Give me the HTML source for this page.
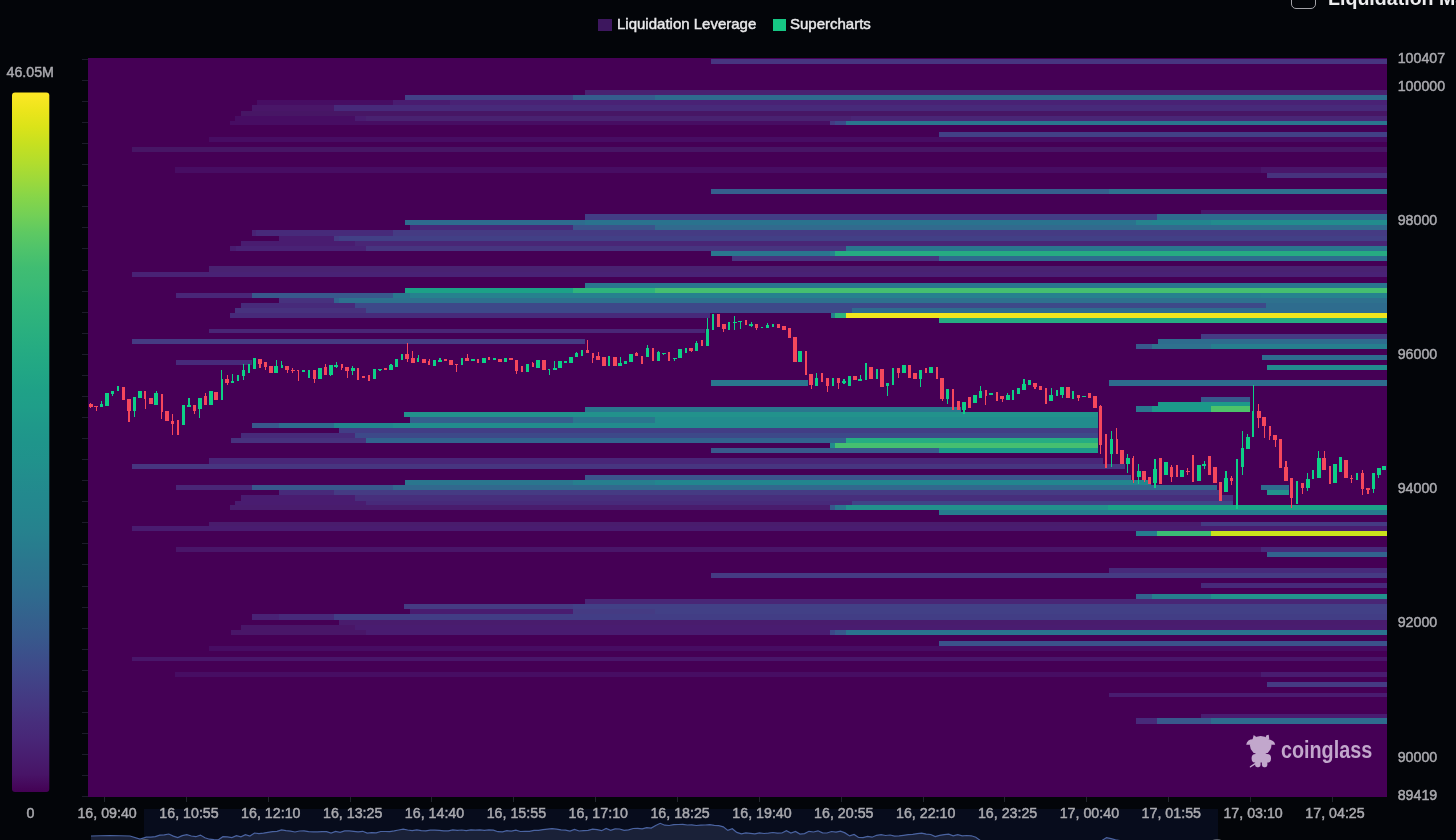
<!DOCTYPE html>
<html><head><meta charset="utf-8"><style>
html,body{margin:0;padding:0;width:1456px;height:840px;overflow:hidden;background:#030509;font-family:"Liberation Sans",sans-serif;}
.abs{position:absolute}
.leg{position:absolute;will-change:transform;top:15px;color:#e8e8ea;font-size:15px;line-height:18px;-webkit-text-stroke:0.45px #e8e8ea;}
svg text{font-family:"Liberation Sans",sans-serif;}
</style></head><body>
<svg class="abs" style="left:0;top:0;will-change:transform" width="1456" height="840" viewBox="0 0 1456 840">
<defs><filter id="sb" x="-1%" y="-1%" width="102%" height="102%"><feGaussianBlur stdDeviation="0.55"/></filter><linearGradient id="vg" x1="0" y1="1" x2="0" y2="0"><stop offset="0.000" stop-color="#440154"/><stop offset="0.025" stop-color="#481467"/><stop offset="0.050" stop-color="#481d6f"/><stop offset="0.075" stop-color="#482677"/><stop offset="0.100" stop-color="#472e7c"/><stop offset="0.125" stop-color="#453781"/><stop offset="0.150" stop-color="#423f85"/><stop offset="0.175" stop-color="#3f4889"/><stop offset="0.200" stop-color="#3b518b"/><stop offset="0.225" stop-color="#375a8c"/><stop offset="0.250" stop-color="#34618d"/><stop offset="0.275" stop-color="#30698e"/><stop offset="0.300" stop-color="#2d708e"/><stop offset="0.325" stop-color="#2b758e"/><stop offset="0.350" stop-color="#287c8e"/><stop offset="0.375" stop-color="#26828e"/><stop offset="0.400" stop-color="#24868e"/><stop offset="0.425" stop-color="#23898e"/><stop offset="0.450" stop-color="#228d8d"/><stop offset="0.475" stop-color="#20928c"/><stop offset="0.500" stop-color="#1f958b"/><stop offset="0.525" stop-color="#1f998a"/><stop offset="0.550" stop-color="#1f9e89"/><stop offset="0.575" stop-color="#1fa187"/><stop offset="0.600" stop-color="#21a685"/><stop offset="0.625" stop-color="#24aa83"/><stop offset="0.650" stop-color="#28ae80"/><stop offset="0.675" stop-color="#2db27d"/><stop offset="0.700" stop-color="#32b67a"/><stop offset="0.725" stop-color="#3aba76"/><stop offset="0.750" stop-color="#40bd72"/><stop offset="0.775" stop-color="#4ec36b"/><stop offset="0.800" stop-color="#5ec962"/><stop offset="0.825" stop-color="#73d056"/><stop offset="0.850" stop-color="#86d549"/><stop offset="0.875" stop-color="#9dd93b"/><stop offset="0.900" stop-color="#b2dd2d"/><stop offset="0.925" stop-color="#c5e021"/><stop offset="0.950" stop-color="#dae319"/><stop offset="0.975" stop-color="#ece51b"/><stop offset="1.000" stop-color="#fde725"/></linearGradient></defs>
<rect x="144" y="809" width="1074" height="31" fill="#070c1c"/>
<polygon points="91,841 91,836 110,835.5 130,836 140,839 146.3,837.2 150.8,837.2 155.3,836.6 159.8,835.1 164.3,834.8 168.8,834.0 173.3,836.1 177.8,837.6 182.3,835.6 186.8,834.7 191.3,836.0 195.8,836.7 200.4,835.1 204.9,837.8 209.4,839.2 213.9,839.6 218.4,839.8 222.9,836.7 227.4,836.8 231.9,837.6 236.4,835.7 240.9,836.8 245.4,834.7 249.9,836.1 254.5,833.0 259.0,833.6 263.5,833.2 268.0,832.3 272.5,831.6 277.0,831.3 281.5,829.9 286.0,830.7 290.5,831.2 295.0,832.0 299.5,831.0 304.0,830.8 308.6,831.6 313.1,831.8 317.6,831.8 322.1,831.6 326.6,831.6 331.1,833.0 335.6,831.4 340.1,832.4 344.6,830.9 349.1,830.9 353.6,831.4 358.1,831.8 362.7,831.3 367.2,833.1 371.7,832.7 376.2,832.9 380.7,831.5 385.2,831.5 389.7,831.6 394.2,830.9 398.7,830.0 403.2,829.2 407.7,830.0 412.2,830.6 416.8,829.9 421.3,830.6 425.8,830.9 430.3,830.2 434.8,830.2 439.3,830.3 443.8,830.9 448.3,830.9 452.8,829.8 457.3,830.3 461.8,830.0 466.3,830.6 470.9,829.8 475.4,830.2 479.9,829.9 484.4,830.4 488.9,829.9 493.4,830.2 497.9,831.7 502.4,831.9 506.9,830.7 511.4,831.2 515.9,830.1 520.4,831.5 525.0,831.4 529.5,831.3 534.0,830.3 538.5,830.3 543.0,829.6 547.5,829.1 552.0,828.6 556.5,829.2 561.0,829.8 565.5,830.2 570.0,831.1 574.5,829.5 579.1,831.0 583.6,830.6 588.1,830.3 592.6,829.2 597.1,829.6 601.6,830.7 606.1,828.4 610.6,830.3 615.1,828.9 619.6,829.0 624.1,830.3 628.6,829.8 633.2,828.5 637.7,828.3 642.2,828.8 646.7,827.6 651.2,828.1 655.7,825.5 660.2,823.3 664.7,825.2 669.2,825.5 673.7,824.6 678.2,824.5 682.7,824.4 687.3,825.0 691.8,824.8 696.3,825.5 700.8,825.2 705.3,825.0 709.8,824.7 714.3,825.4 718.8,825.7 723.3,826.9 727.8,830.4 732.3,828.8 736.8,832.4 741.4,833.8 745.9,832.8 750.4,833.4 754.9,833.9 759.4,832.8 763.9,833.5 768.4,833.2 772.9,832.5 777.4,833.1 781.9,833.0 786.4,830.6 790.9,833.0 795.5,831.5 800.0,834.1 804.5,833.6 809.0,831.3 813.5,832.0 818.0,830.8 822.5,832.8 827.0,833.0 831.5,831.5 836.0,832.1 840.5,831.2 845.0,832.9 849.6,835.9 854.1,834.4 858.6,837.5 863.1,837.6 867.6,836.4 872.1,837.2 876.6,835.3 881.1,834.7 885.6,835.5 890.1,835.0 894.6,836.2 899.1,835.9 903.6,835.3 908.2,834.6 912.7,834.3 917.2,833.6 921.7,833.2 926.2,834.1 930.7,834.5 935.2,836.6 939.7,835.3 944.2,834.6 948.7,834.2 953.2,835.8 957.7,834.7 962.3,835.8 966.8,835.5 971.3,835.8 975.8,837.2 980.3,840.5 984.8,840.5 989.3,840.5 993.8,840.5 998.3,840.5 1002.8,840.5 1007.3,840.5 1011.8,840.5 1016.4,840.5 1020.9,840.5 1025.4,840.5 1029.9,840.5 1034.4,840.5 1038.9,840.5 1043.4,840.5 1047.9,840.5 1052.4,840.5 1056.9,840.5 1061.4,840.5 1065.9,840.5 1070.5,840.5 1075.0,840.5 1079.5,840.5 1084.0,840.5 1088.5,840.5 1093.0,840.5 1097.5,840.5 1102.0,840.5 1106.5,837.6 1111.0,838.7 1115.5,839.8 1120.0,840.5 1124.6,840.5 1129.1,840.5 1133.6,840.5 1138.1,840.5 1142.6,840.5 1147.1,840.5 1151.6,840.5 1156.1,840.5 1160.6,840.5 1165.1,840.5 1169.6,840.5 1174.1,840.5 1178.7,840.5 1183.2,840.5 1187.7,840.5 1192.2,840.5 1196.7,840.5 1201.2,840.5 1205.7,840.5 1210.2,840.5 1214.7,840.5 1214.7,841" fill="#1a2138"/>
<polyline points="91,836 110,835.5 130,836 140,839 146.3,837.2 150.8,837.2 155.3,836.6 159.8,835.1 164.3,834.8 168.8,834.0 173.3,836.1 177.8,837.6 182.3,835.6 186.8,834.7 191.3,836.0 195.8,836.7 200.4,835.1 204.9,837.8 209.4,839.2 213.9,839.6 218.4,839.8 222.9,836.7 227.4,836.8 231.9,837.6 236.4,835.7 240.9,836.8 245.4,834.7 249.9,836.1 254.5,833.0 259.0,833.6 263.5,833.2 268.0,832.3 272.5,831.6 277.0,831.3 281.5,829.9 286.0,830.7 290.5,831.2 295.0,832.0 299.5,831.0 304.0,830.8 308.6,831.6 313.1,831.8 317.6,831.8 322.1,831.6 326.6,831.6 331.1,833.0 335.6,831.4 340.1,832.4 344.6,830.9 349.1,830.9 353.6,831.4 358.1,831.8 362.7,831.3 367.2,833.1 371.7,832.7 376.2,832.9 380.7,831.5 385.2,831.5 389.7,831.6 394.2,830.9 398.7,830.0 403.2,829.2 407.7,830.0 412.2,830.6 416.8,829.9 421.3,830.6 425.8,830.9 430.3,830.2 434.8,830.2 439.3,830.3 443.8,830.9 448.3,830.9 452.8,829.8 457.3,830.3 461.8,830.0 466.3,830.6 470.9,829.8 475.4,830.2 479.9,829.9 484.4,830.4 488.9,829.9 493.4,830.2 497.9,831.7 502.4,831.9 506.9,830.7 511.4,831.2 515.9,830.1 520.4,831.5 525.0,831.4 529.5,831.3 534.0,830.3 538.5,830.3 543.0,829.6 547.5,829.1 552.0,828.6 556.5,829.2 561.0,829.8 565.5,830.2 570.0,831.1 574.5,829.5 579.1,831.0 583.6,830.6 588.1,830.3 592.6,829.2 597.1,829.6 601.6,830.7 606.1,828.4 610.6,830.3 615.1,828.9 619.6,829.0 624.1,830.3 628.6,829.8 633.2,828.5 637.7,828.3 642.2,828.8 646.7,827.6 651.2,828.1 655.7,825.5 660.2,823.3 664.7,825.2 669.2,825.5 673.7,824.6 678.2,824.5 682.7,824.4 687.3,825.0 691.8,824.8 696.3,825.5 700.8,825.2 705.3,825.0 709.8,824.7 714.3,825.4 718.8,825.7 723.3,826.9 727.8,830.4 732.3,828.8 736.8,832.4 741.4,833.8 745.9,832.8 750.4,833.4 754.9,833.9 759.4,832.8 763.9,833.5 768.4,833.2 772.9,832.5 777.4,833.1 781.9,833.0 786.4,830.6 790.9,833.0 795.5,831.5 800.0,834.1 804.5,833.6 809.0,831.3 813.5,832.0 818.0,830.8 822.5,832.8 827.0,833.0 831.5,831.5 836.0,832.1 840.5,831.2 845.0,832.9 849.6,835.9 854.1,834.4 858.6,837.5 863.1,837.6 867.6,836.4 872.1,837.2 876.6,835.3 881.1,834.7 885.6,835.5 890.1,835.0 894.6,836.2 899.1,835.9 903.6,835.3 908.2,834.6 912.7,834.3 917.2,833.6 921.7,833.2 926.2,834.1 930.7,834.5 935.2,836.6 939.7,835.3 944.2,834.6 948.7,834.2 953.2,835.8 957.7,834.7 962.3,835.8 966.8,835.5 971.3,835.8 975.8,837.2 980.3,840.5 984.8,840.5 989.3,840.5 993.8,840.5 998.3,840.5 1002.8,840.5 1007.3,840.5 1011.8,840.5 1016.4,840.5 1020.9,840.5 1025.4,840.5 1029.9,840.5 1034.4,840.5 1038.9,840.5 1043.4,840.5 1047.9,840.5 1052.4,840.5 1056.9,840.5 1061.4,840.5 1065.9,840.5 1070.5,840.5 1075.0,840.5 1079.5,840.5 1084.0,840.5 1088.5,840.5 1093.0,840.5 1097.5,840.5 1102.0,840.5 1106.5,837.6 1111.0,838.7 1115.5,839.8 1120.0,840.5 1124.6,840.5 1129.1,840.5 1133.6,840.5 1138.1,840.5 1142.6,840.5 1147.1,840.5 1151.6,840.5 1156.1,840.5 1160.6,840.5 1165.1,840.5 1169.6,840.5 1174.1,840.5 1178.7,840.5 1183.2,840.5 1187.7,840.5 1192.2,840.5 1196.7,840.5 1201.2,840.5 1205.7,840.5 1210.2,840.5 1214.7,840.5" fill="none" stroke="#4a63a0" stroke-width="1.2"/>
<circle cx="145" cy="849" r="10" fill="#5a5f6a"/>
<circle cx="1217" cy="849" r="10" fill="#5a5f6a"/>
<g shape-rendering="crispEdges" filter="url(#sb)">
<rect x="88" y="58" width="1299" height="739" fill="#440154"/>
<rect x="710.5" y="58.5" width="676.5" height="5.1" fill="#463480"/>
<rect x="585.0" y="90.4" width="802.0" height="4.9" fill="#482071"/>
<rect x="405.0" y="95.3" width="168.0" height="5.1" fill="#424086"/>
<rect x="573.0" y="95.3" width="82.0" height="5.1" fill="#365d8d"/>
<rect x="655.0" y="95.3" width="732.0" height="5.1" fill="#2f6c8e"/>
<rect x="257.0" y="100.4" width="136.0" height="4.9" fill="#471063"/>
<rect x="393.0" y="100.4" width="57.0" height="4.9" fill="#481d6f"/>
<rect x="450.0" y="100.4" width="937.0" height="4.9" fill="#482374"/>
<rect x="252.0" y="105.3" width="81.5" height="5.2" fill="#481668"/>
<rect x="333.5" y="105.3" width="1053.5" height="5.2" fill="#472a7a"/>
<rect x="241.0" y="110.5" width="1146.0" height="5.1" fill="#471365"/>
<rect x="235.0" y="115.6" width="120.0" height="4.9" fill="#471063"/>
<rect x="355.0" y="115.6" width="11.0" height="4.9" fill="#481d6f"/>
<rect x="366.0" y="115.6" width="484.7" height="4.9" fill="#482071"/>
<rect x="850.7" y="115.6" width="536.3" height="4.9" fill="#482576"/>
<rect x="230.0" y="120.5" width="599.5" height="4.5" fill="#471063"/>
<rect x="829.5" y="120.5" width="5.5" height="4.5" fill="#443a83"/>
<rect x="835.0" y="120.5" width="11.0" height="4.5" fill="#3e4989"/>
<rect x="846.0" y="120.5" width="541.0" height="4.5" fill="#2a768e"/>
<rect x="939.0" y="131.7" width="448.0" height="4.9" fill="#424086"/>
<rect x="208.5" y="136.6" width="1178.5" height="5.1" fill="#471063"/>
<rect x="131.5" y="146.8" width="1255.5" height="5.0" fill="#471365"/>
<rect x="175.0" y="167.4" width="1085.5" height="5.6" fill="#471063"/>
<rect x="1260.5" y="167.4" width="126.5" height="5.6" fill="#48186a"/>
<rect x="1266.8" y="173.0" width="120.2" height="4.9" fill="#46307e"/>
<rect x="710.5" y="188.6" width="398.3" height="4.9" fill="#355f8d"/>
<rect x="1108.8" y="188.6" width="278.2" height="4.9" fill="#2d718e"/>
<rect x="1201.4" y="209.8" width="185.6" height="4.5" fill="#48186a"/>
<rect x="585.0" y="214.3" width="571.8" height="5.5" fill="#433e85"/>
<rect x="1156.8" y="214.3" width="230.2" height="5.5" fill="#2f6c8e"/>
<rect x="405.0" y="219.8" width="180.0" height="5.2" fill="#2f6c8e"/>
<rect x="585.0" y="219.8" width="550.5" height="5.2" fill="#2c738e"/>
<rect x="1135.5" y="219.8" width="16.5" height="5.2" fill="#25838e"/>
<rect x="1152.0" y="219.8" width="59.4" height="5.2" fill="#24868e"/>
<rect x="1211.4" y="219.8" width="175.6" height="5.2" fill="#228c8d"/>
<rect x="409.5" y="225.0" width="163.5" height="4.9" fill="#472a7a"/>
<rect x="573.0" y="225.0" width="82.0" height="4.9" fill="#3b528b"/>
<rect x="655.0" y="225.0" width="732.0" height="4.9" fill="#306a8e"/>
<rect x="252.0" y="229.9" width="4.0" height="5.6" fill="#482374"/>
<rect x="256.0" y="229.9" width="137.0" height="5.6" fill="#472a7a"/>
<rect x="393.0" y="229.9" width="994.0" height="5.6" fill="#443a83"/>
<rect x="279.0" y="235.5" width="54.5" height="5.1" fill="#481d6f"/>
<rect x="333.5" y="235.5" width="5.0" height="5.1" fill="#443a83"/>
<rect x="338.5" y="235.5" width="1048.5" height="5.1" fill="#424086"/>
<rect x="241.0" y="240.6" width="114.0" height="5.1" fill="#481d6f"/>
<rect x="355.0" y="240.6" width="1032.0" height="5.1" fill="#482576"/>
<rect x="230.0" y="245.7" width="5.5" height="5.1" fill="#481d6f"/>
<rect x="235.5" y="245.7" width="130.5" height="5.1" fill="#482374"/>
<rect x="366.0" y="245.7" width="480.0" height="5.1" fill="#463480"/>
<rect x="846.0" y="245.7" width="541.0" height="5.1" fill="#2a768e"/>
<rect x="710.5" y="250.8" width="119.0" height="5.2" fill="#2a768e"/>
<rect x="829.5" y="250.8" width="5.5" height="5.2" fill="#25838e"/>
<rect x="835.0" y="250.8" width="552.0" height="5.2" fill="#25ac82"/>
<rect x="732.0" y="256.0" width="207.0" height="4.9" fill="#463480"/>
<rect x="939.0" y="256.0" width="448.0" height="4.9" fill="#2f6c8e"/>
<rect x="208.5" y="266.4" width="1178.5" height="5.1" fill="#482071"/>
<rect x="131.5" y="271.5" width="1255.5" height="5.0" fill="#482374"/>
<rect x="585.0" y="282.7" width="802.0" height="4.9" fill="#2a768e"/>
<rect x="405.0" y="287.6" width="168.0" height="5.0" fill="#1fa187"/>
<rect x="573.0" y="287.6" width="82.0" height="5.0" fill="#2fb47c"/>
<rect x="655.0" y="287.6" width="732.0" height="5.0" fill="#44bf70"/>
<rect x="176.0" y="292.6" width="76.0" height="5.1" fill="#482878"/>
<rect x="252.0" y="292.6" width="141.0" height="5.1" fill="#38588c"/>
<rect x="393.0" y="292.6" width="16.6" height="5.1" fill="#2a768e"/>
<rect x="409.6" y="292.6" width="850.9" height="5.1" fill="#26818e"/>
<rect x="1260.5" y="292.6" width="126.5" height="5.1" fill="#25838e"/>
<rect x="279.0" y="297.7" width="54.5" height="5.1" fill="#46307e"/>
<rect x="333.5" y="297.7" width="5.0" height="5.1" fill="#32648e"/>
<rect x="338.5" y="297.7" width="1048.5" height="5.1" fill="#2d718e"/>
<rect x="241.0" y="302.8" width="114.0" height="4.9" fill="#472a7a"/>
<rect x="355.0" y="302.8" width="911.0" height="4.9" fill="#3e4989"/>
<rect x="1266.0" y="302.8" width="121.0" height="4.9" fill="#2f6c8e"/>
<rect x="235.0" y="307.7" width="131.0" height="4.9" fill="#46307e"/>
<rect x="366.0" y="307.7" width="485.8" height="4.9" fill="#3e4989"/>
<rect x="851.8" y="307.7" width="535.2" height="4.9" fill="#2f6c8e"/>
<rect x="230.0" y="312.6" width="480.0" height="5.2" fill="#472a7a"/>
<rect x="830.6" y="312.6" width="4.4" height="5.2" fill="#277f8e"/>
<rect x="835.0" y="312.6" width="11.0" height="5.2" fill="#2fb47c"/>
<rect x="846.0" y="312.6" width="541.0" height="5.2" fill="#f1e51d"/>
<rect x="939.0" y="317.8" width="448.0" height="5.1" fill="#25ac82"/>
<rect x="208.5" y="329.0" width="496.5" height="4.4" fill="#482576"/>
<rect x="1201.4" y="334.0" width="185.6" height="5.0" fill="#443a83"/>
<rect x="131.5" y="339.0" width="453.5" height="4.9" fill="#443a83"/>
<rect x="1157.9" y="339.0" width="229.1" height="4.9" fill="#2f6c8e"/>
<rect x="1135.5" y="343.9" width="16.5" height="5.1" fill="#38588c"/>
<rect x="1152.0" y="343.9" width="59.4" height="5.1" fill="#2d718e"/>
<rect x="1211.4" y="343.9" width="175.6" height="5.1" fill="#277f8e"/>
<rect x="1261.7" y="354.6" width="125.3" height="4.9" fill="#2f6c8e"/>
<rect x="176.0" y="360.2" width="76.0" height="4.5" fill="#472a7a"/>
<rect x="1266.8" y="364.7" width="120.2" height="5.1" fill="#228c8d"/>
<rect x="710.5" y="380.3" width="97.8" height="5.6" fill="#2a768e"/>
<rect x="1108.8" y="380.3" width="278.2" height="5.6" fill="#2f6c8e"/>
<rect x="1201.4" y="396.6" width="48.6" height="4.9" fill="#38588c"/>
<rect x="1158.0" y="401.5" width="92.0" height="4.9" fill="#1f998a"/>
<rect x="1135.5" y="406.4" width="16.5" height="5.1" fill="#2a768e"/>
<rect x="1152.0" y="406.4" width="59.4" height="5.1" fill="#1f998a"/>
<rect x="1211.4" y="406.4" width="38.6" height="5.1" fill="#4ec36b"/>
<rect x="585.0" y="407.0" width="376.0" height="5.2" fill="#2a768e"/>
<rect x="404.3" y="412.2" width="693.3" height="4.8" fill="#20928c"/>
<rect x="410.3" y="417.0" width="162.7" height="5.5" fill="#355f8d"/>
<rect x="573.0" y="417.0" width="82.0" height="5.5" fill="#2a768e"/>
<rect x="655.0" y="417.0" width="442.6" height="5.5" fill="#228c8d"/>
<rect x="252.4" y="422.5" width="26.6" height="5.1" fill="#38588c"/>
<rect x="279.0" y="422.5" width="55.0" height="5.1" fill="#2f6c8e"/>
<rect x="334.0" y="422.5" width="59.0" height="5.1" fill="#24868e"/>
<rect x="393.0" y="422.5" width="704.6" height="5.1" fill="#228c8d"/>
<rect x="339.0" y="427.6" width="758.6" height="5.2" fill="#433e85"/>
<rect x="241.2" y="432.8" width="113.3" height="5.0" fill="#472a7a"/>
<rect x="354.5" y="432.8" width="743.1" height="5.0" fill="#3e4989"/>
<rect x="231.0" y="437.8" width="134.7" height="5.4" fill="#46307e"/>
<rect x="365.7" y="437.8" width="480.3" height="5.4" fill="#32648e"/>
<rect x="846.0" y="437.8" width="251.6" height="5.4" fill="#25ac82"/>
<rect x="830.0" y="443.2" width="5.0" height="4.9" fill="#228c8d"/>
<rect x="835.0" y="443.2" width="262.6" height="4.9" fill="#44bf70"/>
<rect x="710.5" y="448.1" width="228.5" height="4.9" fill="#375a8c"/>
<rect x="939.0" y="448.1" width="158.6" height="4.9" fill="#1f998a"/>
<rect x="208.5" y="458.1" width="894.9" height="5.6" fill="#482878"/>
<rect x="131.5" y="463.7" width="993.8" height="4.9" fill="#463480"/>
<rect x="585.0" y="474.9" width="545.6" height="4.9" fill="#3a548c"/>
<rect x="405.0" y="479.8" width="168.0" height="5.1" fill="#2a768e"/>
<rect x="573.0" y="479.8" width="82.0" height="5.1" fill="#277f8e"/>
<rect x="655.0" y="479.8" width="496.0" height="5.1" fill="#24868e"/>
<rect x="176.0" y="484.9" width="76.0" height="5.1" fill="#482576"/>
<rect x="252.0" y="484.9" width="141.0" height="5.1" fill="#38588c"/>
<rect x="393.0" y="484.9" width="823.8" height="5.1" fill="#31678e"/>
<rect x="1261.3" y="484.9" width="27.2" height="5.1" fill="#2f6c8e"/>
<rect x="279.0" y="490.0" width="54.5" height="5.0" fill="#472a7a"/>
<rect x="333.5" y="490.0" width="885.5" height="5.0" fill="#443a83"/>
<rect x="1267.4" y="490.0" width="21.1" height="5.0" fill="#20928c"/>
<rect x="241.0" y="495.0" width="114.0" height="5.5" fill="#481d6f"/>
<rect x="355.0" y="495.0" width="878.4" height="5.5" fill="#472e7c"/>
<rect x="235.0" y="500.5" width="131.0" height="4.8" fill="#481d6f"/>
<rect x="366.0" y="500.5" width="486.0" height="4.8" fill="#472a7a"/>
<rect x="852.0" y="500.5" width="381.4" height="4.8" fill="#414487"/>
<rect x="230.0" y="505.3" width="600.0" height="4.9" fill="#481b6d"/>
<rect x="830.0" y="505.3" width="5.0" height="4.9" fill="#38588c"/>
<rect x="835.0" y="505.3" width="11.0" height="4.9" fill="#2a768e"/>
<rect x="846.0" y="505.3" width="261.6" height="4.9" fill="#20928c"/>
<rect x="1107.6" y="505.3" width="279.4" height="4.9" fill="#1fa187"/>
<rect x="939.0" y="510.2" width="448.0" height="5.0" fill="#287c8e"/>
<rect x="208.5" y="521.8" width="992.9" height="4.6" fill="#481b6d"/>
<rect x="1201.4" y="521.8" width="185.6" height="4.6" fill="#443a83"/>
<rect x="131.5" y="526.4" width="1255.5" height="4.7" fill="#481d6f"/>
<rect x="1135.5" y="531.1" width="21.3" height="5.3" fill="#287c8e"/>
<rect x="1156.8" y="531.1" width="54.6" height="5.3" fill="#3bbb75"/>
<rect x="1211.4" y="531.1" width="175.6" height="5.3" fill="#cae11f"/>
<rect x="176.0" y="547.4" width="1084.5" height="4.5" fill="#481769"/>
<rect x="1260.5" y="547.4" width="126.5" height="4.5" fill="#472a7a"/>
<rect x="1266.8" y="551.9" width="120.2" height="5.1" fill="#32648e"/>
<rect x="1108.8" y="568.2" width="278.2" height="4.8" fill="#472a7a"/>
<rect x="710.5" y="573.0" width="676.5" height="4.6" fill="#443a83"/>
<rect x="1201.4" y="583.1" width="185.6" height="5.2" fill="#472a7a"/>
<rect x="1135.5" y="593.6" width="16.5" height="5.2" fill="#32648e"/>
<rect x="1152.0" y="593.6" width="59.4" height="5.2" fill="#277f8e"/>
<rect x="1211.4" y="593.6" width="175.6" height="5.2" fill="#20928c"/>
<rect x="585.0" y="599.4" width="802.0" height="4.8" fill="#482576"/>
<rect x="404.3" y="604.2" width="168.7" height="4.8" fill="#443a83"/>
<rect x="573.0" y="604.2" width="814.0" height="4.8" fill="#424086"/>
<rect x="410.0" y="609.0" width="163.0" height="5.2" fill="#481d6f"/>
<rect x="573.0" y="609.0" width="82.0" height="5.2" fill="#443a83"/>
<rect x="655.0" y="609.0" width="732.0" height="5.2" fill="#424086"/>
<rect x="252.4" y="614.2" width="26.6" height="5.3" fill="#482374"/>
<rect x="279.0" y="614.2" width="55.0" height="5.3" fill="#472a7a"/>
<rect x="334.0" y="614.2" width="1053.0" height="5.3" fill="#433e85"/>
<rect x="339.0" y="619.5" width="1048.0" height="5.0" fill="#481b6d"/>
<rect x="241.0" y="624.5" width="114.0" height="5.5" fill="#481668"/>
<rect x="355.0" y="624.5" width="1032.0" height="5.5" fill="#481d6f"/>
<rect x="231.0" y="630.0" width="135.0" height="4.8" fill="#481668"/>
<rect x="366.0" y="630.0" width="464.0" height="4.8" fill="#481d6f"/>
<rect x="830.0" y="630.0" width="5.0" height="4.8" fill="#3e4989"/>
<rect x="835.0" y="630.0" width="11.0" height="4.8" fill="#38588c"/>
<rect x="846.0" y="630.0" width="541.0" height="4.8" fill="#2c738e"/>
<rect x="939.0" y="640.9" width="448.0" height="4.9" fill="#3b528b"/>
<rect x="208.5" y="645.6" width="1178.5" height="4.9" fill="#471063"/>
<rect x="131.5" y="656.5" width="1255.5" height="4.5" fill="#48186a"/>
<rect x="175.0" y="672.2" width="1085.5" height="4.8" fill="#471063"/>
<rect x="1260.5" y="672.2" width="126.5" height="4.8" fill="#481d6f"/>
<rect x="1266.8" y="682.2" width="120.2" height="4.9" fill="#443a83"/>
<rect x="1108.8" y="692.9" width="278.2" height="4.5" fill="#481d6f"/>
<rect x="1201.4" y="713.9" width="185.6" height="4.5" fill="#481d6f"/>
<rect x="1135.5" y="718.4" width="21.3" height="5.1" fill="#472a7a"/>
<rect x="1156.8" y="718.4" width="54.6" height="5.1" fill="#38588c"/>
<rect x="1211.4" y="718.4" width="175.6" height="5.1" fill="#2f6c8e"/>
<rect x="90.13" y="403.0" width="1.2" height="5.0" fill="#f5475c"/>
<rect x="88.88" y="403.7" width="3.7" height="3.7" fill="#f5475c"/>
<rect x="95.59" y="406.0" width="1.2" height="5.0" fill="#f5475c"/>
<rect x="94.34" y="406.0" width="3.7" height="1.4" fill="#f5475c"/>
<rect x="101.05" y="400.6" width="1.2" height="6.2" fill="#10cf86"/>
<rect x="100.49" y="403.7" width="2.3" height="3.1" fill="#10cf86"/>
<rect x="105.25" y="393.2" width="3.7" height="12.9" fill="#10cf86"/>
<rect x="111.96" y="391.3" width="1.2" height="4.3" fill="#10cf86"/>
<rect x="110.71" y="391.3" width="3.7" height="2.5" fill="#10cf86"/>
<rect x="117.42" y="385.5" width="1.2" height="5.8" fill="#10cf86"/>
<rect x="116.87" y="386.4" width="2.3" height="4.9" fill="#10cf86"/>
<rect x="121.63" y="386.7" width="3.7" height="13.5" fill="#f5475c"/>
<rect x="128.34" y="399.0" width="1.2" height="22.6" fill="#f5475c"/>
<rect x="127.09" y="399.0" width="3.7" height="11.5" fill="#f5475c"/>
<rect x="133.79" y="397.1" width="1.2" height="20.2" fill="#10cf86"/>
<rect x="133.24" y="397.1" width="2.3" height="13.4" fill="#10cf86"/>
<rect x="138.00" y="390.7" width="3.7" height="6.8" fill="#10cf86"/>
<rect x="144.71" y="390.7" width="1.2" height="18.5" fill="#f5475c"/>
<rect x="144.16" y="390.7" width="2.3" height="8.6" fill="#f5475c"/>
<rect x="148.92" y="398.1" width="3.7" height="6.2" fill="#f5475c"/>
<rect x="155.63" y="390.7" width="1.2" height="14.2" fill="#10cf86"/>
<rect x="154.38" y="393.2" width="3.7" height="11.7" fill="#10cf86"/>
<rect x="161.08" y="393.8" width="1.2" height="25.3" fill="#f5475c"/>
<rect x="160.53" y="393.8" width="2.3" height="17.7" fill="#f5475c"/>
<rect x="165.29" y="411.1" width="3.7" height="10.2" fill="#f5475c"/>
<rect x="172.00" y="414.2" width="1.2" height="21.0" fill="#f5475c"/>
<rect x="170.75" y="421.0" width="3.7" height="3.0" fill="#f5475c"/>
<rect x="177.46" y="419.7" width="1.2" height="14.9" fill="#f5475c"/>
<rect x="176.91" y="423.4" width="2.3" height="1.9" fill="#f5475c"/>
<rect x="181.66" y="404.5" width="3.7" height="20.8" fill="#10cf86"/>
<rect x="188.37" y="397.5" width="1.2" height="9.9" fill="#10cf86"/>
<rect x="187.12" y="404.9" width="3.7" height="1.9" fill="#10cf86"/>
<rect x="193.83" y="404.9" width="1.2" height="9.3" fill="#f5475c"/>
<rect x="193.28" y="404.9" width="2.3" height="5.6" fill="#f5475c"/>
<rect x="199.29" y="397.5" width="1.2" height="20.4" fill="#10cf86"/>
<rect x="198.04" y="397.5" width="3.7" height="11.7" fill="#10cf86"/>
<rect x="204.75" y="393.2" width="1.2" height="12.1" fill="#f5475c"/>
<rect x="204.20" y="396.2" width="2.3" height="9.1" fill="#f5475c"/>
<rect x="208.96" y="390.7" width="3.7" height="14.6" fill="#10cf86"/>
<rect x="214.41" y="391.7" width="3.7" height="8.3" fill="#f5475c"/>
<rect x="221.12" y="369.7" width="1.2" height="30.3" fill="#10cf86"/>
<rect x="220.57" y="379.3" width="2.3" height="20.7" fill="#10cf86"/>
<rect x="226.58" y="375.2" width="1.2" height="9.3" fill="#f5475c"/>
<rect x="225.33" y="379.3" width="3.7" height="4.0" fill="#f5475c"/>
<rect x="232.04" y="374.0" width="1.2" height="9.3" fill="#10cf86"/>
<rect x="230.79" y="380.8" width="3.7" height="1.9" fill="#10cf86"/>
<rect x="236.94" y="374.9" width="2.3" height="6.5" fill="#10cf86"/>
<rect x="242.95" y="364.1" width="1.2" height="15.5" fill="#10cf86"/>
<rect x="241.70" y="369.7" width="3.7" height="6.2" fill="#10cf86"/>
<rect x="248.41" y="364.1" width="1.2" height="9.3" fill="#10cf86"/>
<rect x="247.86" y="367.8" width="2.3" height="3.1" fill="#10cf86"/>
<rect x="252.62" y="358.3" width="3.7" height="10.4" fill="#10cf86"/>
<rect x="259.33" y="358.5" width="1.2" height="9.3" fill="#f5475c"/>
<rect x="258.08" y="358.5" width="3.7" height="5.0" fill="#f5475c"/>
<rect x="264.78" y="362.3" width="1.2" height="8.0" fill="#f5475c"/>
<rect x="264.24" y="362.3" width="2.3" height="4.9" fill="#f5475c"/>
<rect x="268.99" y="365.8" width="3.7" height="6.8" fill="#f5475c"/>
<rect x="275.70" y="360.2" width="1.2" height="12.4" fill="#10cf86"/>
<rect x="274.45" y="366.0" width="3.7" height="6.6" fill="#10cf86"/>
<rect x="281.16" y="360.6" width="1.2" height="7.0" fill="#10cf86"/>
<rect x="280.61" y="364.6" width="2.3" height="3.0" fill="#10cf86"/>
<rect x="286.62" y="365.8" width="1.2" height="6.8" fill="#f5475c"/>
<rect x="285.37" y="365.8" width="3.7" height="4.3" fill="#f5475c"/>
<rect x="292.07" y="368.3" width="1.2" height="4.3" fill="#f5475c"/>
<rect x="290.82" y="369.5" width="3.7" height="1.9" fill="#f5475c"/>
<rect x="297.53" y="370.1" width="1.2" height="10.5" fill="#f5475c"/>
<rect x="296.98" y="370.1" width="2.3" height="1.3" fill="#f5475c"/>
<rect x="301.74" y="370.1" width="3.7" height="1.9" fill="#10cf86"/>
<rect x="308.45" y="370.1" width="1.2" height="8.1" fill="#10cf86"/>
<rect x="307.90" y="370.1" width="2.3" height="1.2" fill="#10cf86"/>
<rect x="313.91" y="369.5" width="1.2" height="13.0" fill="#f5475c"/>
<rect x="312.66" y="369.5" width="3.7" height="9.9" fill="#f5475c"/>
<rect x="318.12" y="368.3" width="3.7" height="10.5" fill="#10cf86"/>
<rect x="324.82" y="364.0" width="1.2" height="11.0" fill="#f5475c"/>
<rect x="324.27" y="367.0" width="2.3" height="8.0" fill="#f5475c"/>
<rect x="330.28" y="365.2" width="1.2" height="10.5" fill="#10cf86"/>
<rect x="329.03" y="365.2" width="3.7" height="9.8" fill="#10cf86"/>
<rect x="335.74" y="362.0" width="1.2" height="6.3" fill="#10cf86"/>
<rect x="334.49" y="365.2" width="3.7" height="1.8" fill="#10cf86"/>
<rect x="341.20" y="364.3" width="1.2" height="5.7" fill="#f5475c"/>
<rect x="340.65" y="364.3" width="2.3" height="4.0" fill="#f5475c"/>
<rect x="346.65" y="367.0" width="1.2" height="10.5" fill="#f5475c"/>
<rect x="345.40" y="367.0" width="3.7" height="4.4" fill="#f5475c"/>
<rect x="352.11" y="366.4" width="1.2" height="8.1" fill="#10cf86"/>
<rect x="350.86" y="367.6" width="3.7" height="3.1" fill="#10cf86"/>
<rect x="357.02" y="368.3" width="2.3" height="11.7" fill="#f5475c"/>
<rect x="363.03" y="376.3" width="1.2" height="1.7" fill="#f5475c"/>
<rect x="361.78" y="376.3" width="3.7" height="1.2" fill="#f5475c"/>
<rect x="368.49" y="375.0" width="1.2" height="6.2" fill="#f5475c"/>
<rect x="367.94" y="376.9" width="2.3" height="1.9" fill="#f5475c"/>
<rect x="372.69" y="368.9" width="3.7" height="10.5" fill="#10cf86"/>
<rect x="379.40" y="368.9" width="1.2" height="2.5" fill="#10cf86"/>
<rect x="378.15" y="368.9" width="3.7" height="1.2" fill="#10cf86"/>
<rect x="384.31" y="368.3" width="2.3" height="1.8" fill="#f5475c"/>
<rect x="390.32" y="364.0" width="1.2" height="5.5" fill="#10cf86"/>
<rect x="389.07" y="365.2" width="3.7" height="4.3" fill="#10cf86"/>
<rect x="394.53" y="359.0" width="3.7" height="8.0" fill="#10cf86"/>
<rect x="400.69" y="354.0" width="2.3" height="6.2" fill="#10cf86"/>
<rect x="406.69" y="343.0" width="1.2" height="18.5" fill="#f5475c"/>
<rect x="405.44" y="354.0" width="3.7" height="5.0" fill="#f5475c"/>
<rect x="412.15" y="351.0" width="1.2" height="12.3" fill="#f5475c"/>
<rect x="410.90" y="357.8" width="3.7" height="5.5" fill="#f5475c"/>
<rect x="417.61" y="355.3" width="1.2" height="6.7" fill="#10cf86"/>
<rect x="417.06" y="358.4" width="2.3" height="3.6" fill="#10cf86"/>
<rect x="421.82" y="359.0" width="3.7" height="4.3" fill="#f5475c"/>
<rect x="428.52" y="359.0" width="1.2" height="6.2" fill="#f5475c"/>
<rect x="427.98" y="360.9" width="2.3" height="4.3" fill="#f5475c"/>
<rect x="432.73" y="360.2" width="3.7" height="5.6" fill="#10cf86"/>
<rect x="439.44" y="358.4" width="1.2" height="3.6" fill="#10cf86"/>
<rect x="438.19" y="360.2" width="3.7" height="1.3" fill="#10cf86"/>
<rect x="444.35" y="358.9" width="2.3" height="1.9" fill="#f5475c"/>
<rect x="449.11" y="359.6" width="3.7" height="5.5" fill="#f5475c"/>
<rect x="455.81" y="363.9" width="1.2" height="8.1" fill="#f5475c"/>
<rect x="454.56" y="363.9" width="3.7" height="1.2" fill="#f5475c"/>
<rect x="460.72" y="357.7" width="2.3" height="7.4" fill="#10cf86"/>
<rect x="466.73" y="354.0" width="1.2" height="6.8" fill="#f5475c"/>
<rect x="465.48" y="358.3" width="3.7" height="2.5" fill="#f5475c"/>
<rect x="470.94" y="359.3" width="3.7" height="2.1" fill="#10cf86"/>
<rect x="477.10" y="358.9" width="2.3" height="4.4" fill="#f5475c"/>
<rect x="481.86" y="357.7" width="3.7" height="5.0" fill="#10cf86"/>
<rect x="488.01" y="357.1" width="2.3" height="3.1" fill="#f5475c"/>
<rect x="492.77" y="358.3" width="3.7" height="1.9" fill="#10cf86"/>
<rect x="498.23" y="358.6" width="3.7" height="3.2" fill="#f5475c"/>
<rect x="504.39" y="358.3" width="2.3" height="3.5" fill="#10cf86"/>
<rect x="509.14" y="358.3" width="3.7" height="1.9" fill="#f5475c"/>
<rect x="515.85" y="359.6" width="1.2" height="14.2" fill="#f5475c"/>
<rect x="514.60" y="359.6" width="3.7" height="11.1" fill="#f5475c"/>
<rect x="520.76" y="366.4" width="2.3" height="5.6" fill="#f5475c"/>
<rect x="525.52" y="363.9" width="3.7" height="8.1" fill="#10cf86"/>
<rect x="532.23" y="361.8" width="1.2" height="5.2" fill="#f5475c"/>
<rect x="531.68" y="362.7" width="2.3" height="4.3" fill="#f5475c"/>
<rect x="536.44" y="359.6" width="3.7" height="8.0" fill="#10cf86"/>
<rect x="541.89" y="359.6" width="3.7" height="9.9" fill="#f5475c"/>
<rect x="548.60" y="368.8" width="1.2" height="6.2" fill="#10cf86"/>
<rect x="548.05" y="368.8" width="2.3" height="1.2" fill="#10cf86"/>
<rect x="554.06" y="361.4" width="1.2" height="8.1" fill="#10cf86"/>
<rect x="552.81" y="367.6" width="3.7" height="1.9" fill="#10cf86"/>
<rect x="558.27" y="361.4" width="3.7" height="6.8" fill="#10cf86"/>
<rect x="564.43" y="361.4" width="2.3" height="1.9" fill="#10cf86"/>
<rect x="569.18" y="356.5" width="3.7" height="6.2" fill="#10cf86"/>
<rect x="575.89" y="352.0" width="1.2" height="5.1" fill="#10cf86"/>
<rect x="574.64" y="352.8" width="3.7" height="4.3" fill="#10cf86"/>
<rect x="580.80" y="349.7" width="2.3" height="6.2" fill="#10cf86"/>
<rect x="586.81" y="339.8" width="1.2" height="13.6" fill="#f5475c"/>
<rect x="585.56" y="349.7" width="3.7" height="3.7" fill="#f5475c"/>
<rect x="592.26" y="352.8" width="1.2" height="9.9" fill="#f5475c"/>
<rect x="591.72" y="352.8" width="2.3" height="4.9" fill="#f5475c"/>
<rect x="597.72" y="351.5" width="1.2" height="8.7" fill="#f5475c"/>
<rect x="596.47" y="355.9" width="3.7" height="4.3" fill="#f5475c"/>
<rect x="601.93" y="357.1" width="3.7" height="9.3" fill="#f5475c"/>
<rect x="608.09" y="355.9" width="2.3" height="10.5" fill="#10cf86"/>
<rect x="612.85" y="357.1" width="3.7" height="8.6" fill="#f5475c"/>
<rect x="619.55" y="356.9" width="1.2" height="8.6" fill="#10cf86"/>
<rect x="618.30" y="363.0" width="3.7" height="2.5" fill="#10cf86"/>
<rect x="624.46" y="361.2" width="2.3" height="3.1" fill="#10cf86"/>
<rect x="629.22" y="353.8" width="3.7" height="8.6" fill="#10cf86"/>
<rect x="635.93" y="352.0" width="1.2" height="4.2" fill="#f5475c"/>
<rect x="634.68" y="353.2" width="3.7" height="3.0" fill="#f5475c"/>
<rect x="640.84" y="355.6" width="2.3" height="8.1" fill="#f5475c"/>
<rect x="646.85" y="344.5" width="1.2" height="12.4" fill="#10cf86"/>
<rect x="645.60" y="348.2" width="3.7" height="8.7" fill="#10cf86"/>
<rect x="651.75" y="348.2" width="2.3" height="13.0" fill="#f5475c"/>
<rect x="657.76" y="351.0" width="1.2" height="10.2" fill="#10cf86"/>
<rect x="656.51" y="351.9" width="3.7" height="9.3" fill="#10cf86"/>
<rect x="663.22" y="352.5" width="1.2" height="2.5" fill="#10cf86"/>
<rect x="661.97" y="352.5" width="3.7" height="1.3" fill="#10cf86"/>
<rect x="668.13" y="351.9" width="2.3" height="9.3" fill="#f5475c"/>
<rect x="674.13" y="357.5" width="1.2" height="3.1" fill="#10cf86"/>
<rect x="672.88" y="357.5" width="3.7" height="1.2" fill="#10cf86"/>
<rect x="678.34" y="348.8" width="3.7" height="9.3" fill="#10cf86"/>
<rect x="684.50" y="347.6" width="2.3" height="4.9" fill="#10cf86"/>
<rect x="690.51" y="347.6" width="1.2" height="4.4" fill="#f5475c"/>
<rect x="689.26" y="347.6" width="3.7" height="3.1" fill="#f5475c"/>
<rect x="695.97" y="340.8" width="1.2" height="9.9" fill="#10cf86"/>
<rect x="694.72" y="342.7" width="3.7" height="8.0" fill="#10cf86"/>
<rect x="700.88" y="340.2" width="2.3" height="6.2" fill="#f5475c"/>
<rect x="706.88" y="318.0" width="1.2" height="28.4" fill="#10cf86"/>
<rect x="705.63" y="329.0" width="3.7" height="17.4" fill="#10cf86"/>
<rect x="711.79" y="313.8" width="2.3" height="15.9" fill="#10cf86"/>
<rect x="716.55" y="313.8" width="3.7" height="12.8" fill="#f5475c"/>
<rect x="723.26" y="324.1" width="1.2" height="7.4" fill="#f5475c"/>
<rect x="722.01" y="324.1" width="3.7" height="4.9" fill="#f5475c"/>
<rect x="728.17" y="322.3" width="2.3" height="8.0" fill="#10cf86"/>
<rect x="734.17" y="315.5" width="1.2" height="14.2" fill="#10cf86"/>
<rect x="732.92" y="321.6" width="3.7" height="1.3" fill="#10cf86"/>
<rect x="739.63" y="321.0" width="1.2" height="8.0" fill="#10cf86"/>
<rect x="738.38" y="321.0" width="3.7" height="1.3" fill="#10cf86"/>
<rect x="744.54" y="319.8" width="2.3" height="5.5" fill="#f5475c"/>
<rect x="750.55" y="322.3" width="1.2" height="4.3" fill="#10cf86"/>
<rect x="749.30" y="324.1" width="3.7" height="1.9" fill="#10cf86"/>
<rect x="756.00" y="324.1" width="1.2" height="5.6" fill="#f5475c"/>
<rect x="754.75" y="324.1" width="3.7" height="4.3" fill="#f5475c"/>
<rect x="760.91" y="326.6" width="2.3" height="1.2" fill="#10cf86"/>
<rect x="766.92" y="322.9" width="1.2" height="4.9" fill="#10cf86"/>
<rect x="765.67" y="325.3" width="3.7" height="2.5" fill="#10cf86"/>
<rect x="771.83" y="323.5" width="2.3" height="3.1" fill="#10cf86"/>
<rect x="776.59" y="324.1" width="3.7" height="3.7" fill="#f5475c"/>
<rect x="782.04" y="326.0" width="3.7" height="3.7" fill="#f5475c"/>
<rect x="788.20" y="328.4" width="2.3" height="9.9" fill="#f5475c"/>
<rect x="792.96" y="336.7" width="3.7" height="25.4" fill="#f5475c"/>
<rect x="798.42" y="351.0" width="3.7" height="10.5" fill="#10cf86"/>
<rect x="804.58" y="351.0" width="2.3" height="24.1" fill="#f5475c"/>
<rect x="810.59" y="373.8" width="1.2" height="14.9" fill="#f5475c"/>
<rect x="809.34" y="373.8" width="3.7" height="11.2" fill="#f5475c"/>
<rect x="816.04" y="372.6" width="1.2" height="13.0" fill="#10cf86"/>
<rect x="814.79" y="378.2" width="3.7" height="7.4" fill="#10cf86"/>
<rect x="820.95" y="372.6" width="2.3" height="9.3" fill="#f5475c"/>
<rect x="826.96" y="378.2" width="1.2" height="13.6" fill="#f5475c"/>
<rect x="825.71" y="378.2" width="3.7" height="7.4" fill="#f5475c"/>
<rect x="831.87" y="378.2" width="2.3" height="8.0" fill="#10cf86"/>
<rect x="837.88" y="378.2" width="1.2" height="10.5" fill="#f5475c"/>
<rect x="836.62" y="378.2" width="3.7" height="4.3" fill="#f5475c"/>
<rect x="843.33" y="379.0" width="1.2" height="5.0" fill="#10cf86"/>
<rect x="842.08" y="380.6" width="3.7" height="2.5" fill="#10cf86"/>
<rect x="848.24" y="376.3" width="2.3" height="9.3" fill="#10cf86"/>
<rect x="853.00" y="375.7" width="3.7" height="4.3" fill="#f5475c"/>
<rect x="859.71" y="374.5" width="1.2" height="6.1" fill="#10cf86"/>
<rect x="858.46" y="379.4" width="3.7" height="1.2" fill="#10cf86"/>
<rect x="864.62" y="363.3" width="2.3" height="16.7" fill="#10cf86"/>
<rect x="869.37" y="367.0" width="3.7" height="12.4" fill="#f5475c"/>
<rect x="875.53" y="368.9" width="2.3" height="9.9" fill="#10cf86"/>
<rect x="880.29" y="368.9" width="3.7" height="17.9" fill="#f5475c"/>
<rect x="887.00" y="383.1" width="1.2" height="12.4" fill="#10cf86"/>
<rect x="885.75" y="383.1" width="3.7" height="2.5" fill="#10cf86"/>
<rect x="891.91" y="367.6" width="2.3" height="17.4" fill="#10cf86"/>
<rect x="897.91" y="368.3" width="1.2" height="9.2" fill="#f5475c"/>
<rect x="896.66" y="368.3" width="3.7" height="4.3" fill="#f5475c"/>
<rect x="902.12" y="364.6" width="3.7" height="8.0" fill="#10cf86"/>
<rect x="908.28" y="365.2" width="2.3" height="13.0" fill="#f5475c"/>
<rect x="913.04" y="372.6" width="3.7" height="6.8" fill="#f5475c"/>
<rect x="919.75" y="369.5" width="1.2" height="17.9" fill="#10cf86"/>
<rect x="918.50" y="369.5" width="3.7" height="9.9" fill="#10cf86"/>
<rect x="924.65" y="367.6" width="2.3" height="5.6" fill="#f5475c"/>
<rect x="929.41" y="367.0" width="3.7" height="6.2" fill="#10cf86"/>
<rect x="935.57" y="367.0" width="2.3" height="11.8" fill="#f5475c"/>
<rect x="941.58" y="377.5" width="1.2" height="23.5" fill="#f5475c"/>
<rect x="940.33" y="377.5" width="3.7" height="21.7" fill="#f5475c"/>
<rect x="947.03" y="388.7" width="1.2" height="14.8" fill="#10cf86"/>
<rect x="945.78" y="388.7" width="3.7" height="9.9" fill="#10cf86"/>
<rect x="951.94" y="388.7" width="2.3" height="21.0" fill="#f5475c"/>
<rect x="956.70" y="401.0" width="3.7" height="9.3" fill="#f5475c"/>
<rect x="963.41" y="402.3" width="1.2" height="11.7" fill="#10cf86"/>
<rect x="962.16" y="402.3" width="3.7" height="8.0" fill="#10cf86"/>
<rect x="968.32" y="397.1" width="2.3" height="10.5" fill="#f5475c"/>
<rect x="973.08" y="394.6" width="3.7" height="8.1" fill="#10cf86"/>
<rect x="979.78" y="386.0" width="1.2" height="11.7" fill="#10cf86"/>
<rect x="978.53" y="390.9" width="3.7" height="6.8" fill="#10cf86"/>
<rect x="985.24" y="390.3" width="1.2" height="14.2" fill="#f5475c"/>
<rect x="984.69" y="390.3" width="2.3" height="5.6" fill="#f5475c"/>
<rect x="989.45" y="392.8" width="3.7" height="2.4" fill="#10cf86"/>
<rect x="995.61" y="392.1" width="2.3" height="8.7" fill="#f5475c"/>
<rect x="1001.62" y="395.9" width="1.2" height="6.1" fill="#f5475c"/>
<rect x="1000.37" y="395.9" width="3.7" height="3.0" fill="#f5475c"/>
<rect x="1007.07" y="393.4" width="1.2" height="6.2" fill="#10cf86"/>
<rect x="1005.82" y="395.2" width="3.7" height="4.4" fill="#10cf86"/>
<rect x="1011.98" y="390.3" width="2.3" height="9.3" fill="#10cf86"/>
<rect x="1016.74" y="387.8" width="3.7" height="6.2" fill="#10cf86"/>
<rect x="1023.45" y="379.2" width="1.2" height="10.5" fill="#10cf86"/>
<rect x="1022.20" y="383.5" width="3.7" height="6.2" fill="#10cf86"/>
<rect x="1028.36" y="380.4" width="2.3" height="4.3" fill="#10cf86"/>
<rect x="1034.36" y="382.9" width="1.2" height="6.1" fill="#f5475c"/>
<rect x="1033.11" y="382.9" width="3.7" height="3.7" fill="#f5475c"/>
<rect x="1038.57" y="386.0" width="3.7" height="3.7" fill="#f5475c"/>
<rect x="1044.73" y="387.8" width="2.3" height="16.1" fill="#f5475c"/>
<rect x="1050.74" y="387.8" width="1.2" height="13.6" fill="#10cf86"/>
<rect x="1049.49" y="394.6" width="3.7" height="6.8" fill="#10cf86"/>
<rect x="1055.64" y="390.3" width="2.3" height="5.6" fill="#10cf86"/>
<rect x="1061.65" y="387.2" width="1.2" height="10.5" fill="#10cf86"/>
<rect x="1060.40" y="387.2" width="3.7" height="7.4" fill="#10cf86"/>
<rect x="1065.86" y="387.2" width="3.7" height="11.1" fill="#f5475c"/>
<rect x="1072.02" y="390.9" width="2.3" height="8.0" fill="#10cf86"/>
<rect x="1078.03" y="395.2" width="1.2" height="6.2" fill="#f5475c"/>
<rect x="1076.78" y="395.2" width="3.7" height="3.1" fill="#f5475c"/>
<rect x="1082.24" y="395.9" width="3.7" height="1.2" fill="#10cf86"/>
<rect x="1088.39" y="392.8" width="2.3" height="5.5" fill="#f5475c"/>
<rect x="1093.15" y="395.9" width="3.7" height="11.7" fill="#f5475c"/>
<rect x="1099.86" y="405.2" width="1.2" height="48.5" fill="#f5475c"/>
<rect x="1098.61" y="405.9" width="3.7" height="38.6" fill="#f5475c"/>
<rect x="1105.32" y="434.0" width="1.2" height="34.0" fill="#f5475c"/>
<rect x="1104.77" y="443.9" width="2.3" height="9.8" fill="#f5475c"/>
<rect x="1110.78" y="431.4" width="1.2" height="35.4" fill="#10cf86"/>
<rect x="1109.53" y="438.6" width="3.7" height="15.1" fill="#10cf86"/>
<rect x="1116.23" y="428.0" width="1.2" height="25.7" fill="#f5475c"/>
<rect x="1115.68" y="438.6" width="2.3" height="15.1" fill="#f5475c"/>
<rect x="1120.44" y="450.4" width="3.7" height="13.7" fill="#f5475c"/>
<rect x="1127.15" y="453.7" width="1.2" height="19.6" fill="#10cf86"/>
<rect x="1125.90" y="458.3" width="3.7" height="5.8" fill="#10cf86"/>
<rect x="1132.61" y="456.3" width="1.2" height="26.8" fill="#f5475c"/>
<rect x="1132.06" y="457.6" width="2.3" height="22.3" fill="#f5475c"/>
<rect x="1138.07" y="464.1" width="1.2" height="19.7" fill="#10cf86"/>
<rect x="1136.82" y="471.3" width="3.7" height="5.9" fill="#10cf86"/>
<rect x="1143.52" y="471.3" width="1.2" height="10.5" fill="#f5475c"/>
<rect x="1142.27" y="471.3" width="3.7" height="8.6" fill="#f5475c"/>
<rect x="1148.43" y="477.2" width="2.3" height="7.2" fill="#f5475c"/>
<rect x="1154.44" y="458.9" width="1.2" height="29.5" fill="#10cf86"/>
<rect x="1153.19" y="468.7" width="3.7" height="14.4" fill="#10cf86"/>
<rect x="1159.35" y="458.3" width="2.3" height="26.1" fill="#f5475c"/>
<rect x="1164.11" y="462.2" width="3.7" height="12.4" fill="#10cf86"/>
<rect x="1170.81" y="464.8" width="1.2" height="17.0" fill="#f5475c"/>
<rect x="1169.56" y="467.4" width="3.7" height="9.8" fill="#f5475c"/>
<rect x="1175.72" y="464.8" width="2.3" height="12.4" fill="#f5475c"/>
<rect x="1180.48" y="470.0" width="3.7" height="6.6" fill="#10cf86"/>
<rect x="1187.19" y="468.0" width="1.2" height="7.3" fill="#f5475c"/>
<rect x="1185.94" y="470.7" width="3.7" height="1.3" fill="#f5475c"/>
<rect x="1192.10" y="455.0" width="2.3" height="26.8" fill="#f5475c"/>
<rect x="1196.85" y="464.8" width="3.7" height="15.7" fill="#10cf86"/>
<rect x="1203.56" y="460.9" width="1.2" height="7.8" fill="#10cf86"/>
<rect x="1202.31" y="464.1" width="3.7" height="1.4" fill="#10cf86"/>
<rect x="1208.47" y="456.3" width="2.3" height="18.3" fill="#f5475c"/>
<rect x="1213.23" y="467.4" width="3.7" height="15.7" fill="#f5475c"/>
<rect x="1219.38" y="481.8" width="2.3" height="19.0" fill="#f5475c"/>
<rect x="1225.39" y="471.3" width="1.2" height="20.3" fill="#10cf86"/>
<rect x="1224.14" y="477.9" width="3.7" height="13.7" fill="#10cf86"/>
<rect x="1230.85" y="475.9" width="1.2" height="9.2" fill="#f5475c"/>
<rect x="1229.60" y="477.9" width="3.7" height="2.6" fill="#f5475c"/>
<rect x="1236.31" y="458.9" width="1.2" height="50.1" fill="#10cf86"/>
<rect x="1235.76" y="466.1" width="2.3" height="15.1" fill="#10cf86"/>
<rect x="1241.77" y="431.4" width="1.2" height="43.9" fill="#10cf86"/>
<rect x="1240.52" y="448.4" width="3.7" height="19.0" fill="#10cf86"/>
<rect x="1247.23" y="434.0" width="1.2" height="15.1" fill="#10cf86"/>
<rect x="1245.98" y="436.7" width="3.7" height="12.4" fill="#10cf86"/>
<rect x="1252.68" y="385.0" width="1.2" height="52.4" fill="#10cf86"/>
<rect x="1252.13" y="410.7" width="2.3" height="26.7" fill="#10cf86"/>
<rect x="1258.14" y="404.0" width="1.2" height="24.0" fill="#f5475c"/>
<rect x="1256.89" y="410.7" width="3.7" height="7.3" fill="#f5475c"/>
<rect x="1263.60" y="416.5" width="1.2" height="21.9" fill="#f5475c"/>
<rect x="1262.35" y="416.5" width="3.7" height="9.0" fill="#f5475c"/>
<rect x="1269.06" y="425.8" width="1.2" height="14.2" fill="#f5475c"/>
<rect x="1268.51" y="425.8" width="2.3" height="10.2" fill="#f5475c"/>
<rect x="1274.52" y="435.0" width="1.2" height="11.7" fill="#f5475c"/>
<rect x="1273.27" y="435.0" width="3.7" height="5.0" fill="#f5475c"/>
<rect x="1279.42" y="439.2" width="2.3" height="28.3" fill="#f5475c"/>
<rect x="1285.43" y="460.8" width="1.2" height="20.0" fill="#f5475c"/>
<rect x="1284.18" y="466.7" width="3.7" height="14.1" fill="#f5475c"/>
<rect x="1290.89" y="478.3" width="1.2" height="29.2" fill="#f5475c"/>
<rect x="1289.64" y="478.3" width="3.7" height="20.0" fill="#f5475c"/>
<rect x="1296.35" y="480.8" width="1.2" height="23.2" fill="#10cf86"/>
<rect x="1295.80" y="480.8" width="2.3" height="18.4" fill="#10cf86"/>
<rect x="1301.81" y="482.5" width="1.2" height="11.5" fill="#f5475c"/>
<rect x="1300.56" y="482.5" width="3.7" height="5.8" fill="#f5475c"/>
<rect x="1307.26" y="472.5" width="1.2" height="18.3" fill="#10cf86"/>
<rect x="1306.01" y="479.2" width="3.7" height="9.1" fill="#10cf86"/>
<rect x="1312.17" y="470.0" width="2.3" height="9.2" fill="#10cf86"/>
<rect x="1318.18" y="450.8" width="1.2" height="26.7" fill="#10cf86"/>
<rect x="1316.93" y="458.3" width="3.7" height="19.2" fill="#10cf86"/>
<rect x="1323.64" y="450.8" width="1.2" height="19.2" fill="#f5475c"/>
<rect x="1322.39" y="458.3" width="3.7" height="11.7" fill="#f5475c"/>
<rect x="1328.54" y="465.8" width="2.3" height="18.4" fill="#f5475c"/>
<rect x="1333.30" y="464.2" width="3.7" height="19.1" fill="#10cf86"/>
<rect x="1339.46" y="456.7" width="2.3" height="15.0" fill="#10cf86"/>
<rect x="1344.22" y="460.0" width="3.7" height="18.3" fill="#f5475c"/>
<rect x="1350.93" y="475.0" width="1.2" height="7.5" fill="#f5475c"/>
<rect x="1349.68" y="477.5" width="3.7" height="1.7" fill="#f5475c"/>
<rect x="1355.84" y="472.5" width="2.3" height="7.5" fill="#10cf86"/>
<rect x="1361.84" y="470.0" width="1.2" height="25.0" fill="#f5475c"/>
<rect x="1360.59" y="473.3" width="3.7" height="15.9" fill="#f5475c"/>
<rect x="1367.30" y="488.3" width="1.2" height="5.7" fill="#f5475c"/>
<rect x="1366.05" y="488.3" width="3.7" height="1.7" fill="#f5475c"/>
<rect x="1372.76" y="473.3" width="1.2" height="19.7" fill="#10cf86"/>
<rect x="1372.21" y="473.3" width="2.3" height="15.9" fill="#10cf86"/>
<rect x="1378.22" y="468.3" width="1.2" height="10.0" fill="#10cf86"/>
<rect x="1376.97" y="468.3" width="3.7" height="6.7" fill="#10cf86"/>
<rect x="1382.43" y="465.8" width="3.7" height="4.2" fill="#10cf86"/>
<rect x="82" y="796.2" width="6" height="1" fill="#1c1f2a"/>
<rect x="82" y="775.1" width="6" height="1" fill="#1c1f2a"/>
<rect x="82" y="754.1" width="6" height="1" fill="#1c1f2a"/>
<rect x="82" y="733.0" width="6" height="1" fill="#1c1f2a"/>
<rect x="82" y="711.9" width="6" height="1" fill="#1c1f2a"/>
<rect x="82" y="690.9" width="6" height="1" fill="#1c1f2a"/>
<rect x="82" y="669.8" width="6" height="1" fill="#1c1f2a"/>
<rect x="82" y="648.7" width="6" height="1" fill="#1c1f2a"/>
<rect x="82" y="627.6" width="6" height="1" fill="#1c1f2a"/>
<rect x="82" y="606.6" width="6" height="1" fill="#1c1f2a"/>
<rect x="82" y="585.5" width="6" height="1" fill="#1c1f2a"/>
<rect x="82" y="564.4" width="6" height="1" fill="#1c1f2a"/>
<rect x="82" y="543.4" width="6" height="1" fill="#1c1f2a"/>
<rect x="82" y="522.3" width="6" height="1" fill="#1c1f2a"/>
<rect x="82" y="501.2" width="6" height="1" fill="#1c1f2a"/>
<rect x="82" y="480.2" width="6" height="1" fill="#1c1f2a"/>
<rect x="82" y="459.1" width="6" height="1" fill="#1c1f2a"/>
<rect x="82" y="438.0" width="6" height="1" fill="#1c1f2a"/>
<rect x="82" y="416.9" width="6" height="1" fill="#1c1f2a"/>
<rect x="82" y="395.9" width="6" height="1" fill="#1c1f2a"/>
<rect x="82" y="374.8" width="6" height="1" fill="#1c1f2a"/>
<rect x="82" y="353.7" width="6" height="1" fill="#1c1f2a"/>
<rect x="82" y="332.7" width="6" height="1" fill="#1c1f2a"/>
<rect x="82" y="311.6" width="6" height="1" fill="#1c1f2a"/>
<rect x="82" y="290.5" width="6" height="1" fill="#1c1f2a"/>
<rect x="82" y="269.5" width="6" height="1" fill="#1c1f2a"/>
<rect x="82" y="248.4" width="6" height="1" fill="#1c1f2a"/>
<rect x="82" y="227.3" width="6" height="1" fill="#1c1f2a"/>
<rect x="82" y="206.2" width="6" height="1" fill="#1c1f2a"/>
<rect x="82" y="185.2" width="6" height="1" fill="#1c1f2a"/>
<rect x="82" y="164.1" width="6" height="1" fill="#1c1f2a"/>
<rect x="82" y="143.0" width="6" height="1" fill="#1c1f2a"/>
<rect x="82" y="122.0" width="6" height="1" fill="#1c1f2a"/>
<rect x="82" y="100.9" width="6" height="1" fill="#1c1f2a"/>
<rect x="82" y="79.8" width="6" height="1" fill="#1c1f2a"/>
<rect x="82" y="58.8" width="6" height="1" fill="#1c1f2a"/>
<rect x="103.9" y="797" width="1" height="5" fill="#22252f"/>
<rect x="185.7" y="797" width="1" height="5" fill="#22252f"/>
<rect x="267.6" y="797" width="1" height="5" fill="#22252f"/>
<rect x="349.5" y="797" width="1" height="5" fill="#22252f"/>
<rect x="431.4" y="797" width="1" height="5" fill="#22252f"/>
<rect x="513.2" y="797" width="1" height="5" fill="#22252f"/>
<rect x="595.1" y="797" width="1" height="5" fill="#22252f"/>
<rect x="677.0" y="797" width="1" height="5" fill="#22252f"/>
<rect x="758.8" y="797" width="1" height="5" fill="#22252f"/>
<rect x="840.7" y="797" width="1" height="5" fill="#22252f"/>
<rect x="922.6" y="797" width="1" height="5" fill="#22252f"/>
<rect x="1004.4" y="797" width="1" height="5" fill="#22252f"/>
<rect x="1086.3" y="797" width="1" height="5" fill="#22252f"/>
<rect x="1168.2" y="797" width="1" height="5" fill="#22252f"/>
<rect x="1250.1" y="797" width="1" height="5" fill="#22252f"/>
<rect x="1331.9" y="797" width="1" height="5" fill="#22252f"/>
</g>
<rect x="12" y="92.5" width="37.3" height="699.5" rx="3" fill="url(#vg)"/>
<g transform="translate(1240,728) scale(0.05236)" fill="#c2a7cc">
<ellipse cx="395" cy="335" rx="205" ry="180"/>
<path d="M250 215 Q140 215 118 318 L260 322 Z"/>
<path d="M540 222 Q655 228 672 320 L530 322 Z"/>
<path d="M238 225 L262 132 L305 165 L318 205 Z"/>
<path d="M478 200 L505 140 L548 130 L560 225 Z"/>
<rect x="222" y="495" width="370" height="165" rx="75"/>
<rect x="288" y="590" width="105" height="158" rx="40"/>
<rect x="418" y="590" width="105" height="158" rx="40"/>
<path d="M200 740 L290 680" stroke="#c2a7cc" stroke-width="28" stroke-linecap="round"/>
</g>
<text x="1281" y="758" font-size="23" font-weight="bold" fill="#c2a7cc" transform="translate(1281,0) scale(0.86,1) translate(-1281,0)">coinglass</text>
<text x="1397.7" y="62.9" font-size="15" font-weight="normal" fill="#a9a9ae" stroke="#a9a9ae" stroke-width="0.5" text-anchor="start" transform="translate(1397.7,0) scale(0.95,1) translate(-1397.7,0)" >100407</text>
<text x="1397.7" y="90.8" font-size="15" font-weight="normal" fill="#a9a9ae" stroke="#a9a9ae" stroke-width="0.5" text-anchor="start" transform="translate(1397.7,0) scale(0.95,1) translate(-1397.7,0)" >100000</text>
<text x="1397.7" y="224.6" font-size="15" font-weight="normal" fill="#a9a9ae" stroke="#a9a9ae" stroke-width="0.5" text-anchor="start" transform="translate(1397.7,0) scale(0.95,1) translate(-1397.7,0)" >98000</text>
<text x="1397.7" y="358.6" font-size="15" font-weight="normal" fill="#a9a9ae" stroke="#a9a9ae" stroke-width="0.5" text-anchor="start" transform="translate(1397.7,0) scale(0.95,1) translate(-1397.7,0)" >96000</text>
<text x="1397.7" y="492.6" font-size="15" font-weight="normal" fill="#a9a9ae" stroke="#a9a9ae" stroke-width="0.5" text-anchor="start" transform="translate(1397.7,0) scale(0.95,1) translate(-1397.7,0)" >94000</text>
<text x="1397.7" y="626.6" font-size="15" font-weight="normal" fill="#a9a9ae" stroke="#a9a9ae" stroke-width="0.5" text-anchor="start" transform="translate(1397.7,0) scale(0.95,1) translate(-1397.7,0)" >92000</text>
<text x="1397.7" y="761.6" font-size="15" font-weight="normal" fill="#a9a9ae" stroke="#a9a9ae" stroke-width="0.5" text-anchor="start" transform="translate(1397.7,0) scale(0.95,1) translate(-1397.7,0)" >90000</text>
<text x="1397.7" y="800.0" font-size="15" font-weight="normal" fill="#a9a9ae" stroke="#a9a9ae" stroke-width="0.5" text-anchor="start" transform="translate(1397.7,0) scale(0.95,1) translate(-1397.7,0)" >89419</text>
<text x="107.1" y="818.0" font-size="15" font-weight="normal" fill="#a9a9ae" stroke="#a9a9ae" stroke-width="0.5" text-anchor="middle" transform="translate(107.1,0) scale(0.95,1) translate(-107.1,0)" >16, 09:40</text>
<text x="189.0" y="818.0" font-size="15" font-weight="normal" fill="#a9a9ae" stroke="#a9a9ae" stroke-width="0.5" text-anchor="middle" transform="translate(189.0,0) scale(0.95,1) translate(-189.0,0)" >16, 10:55</text>
<text x="270.8" y="818.0" font-size="15" font-weight="normal" fill="#a9a9ae" stroke="#a9a9ae" stroke-width="0.5" text-anchor="middle" transform="translate(270.8,0) scale(0.95,1) translate(-270.8,0)" >16, 12:10</text>
<text x="352.7" y="818.0" font-size="15" font-weight="normal" fill="#a9a9ae" stroke="#a9a9ae" stroke-width="0.5" text-anchor="middle" transform="translate(352.7,0) scale(0.95,1) translate(-352.7,0)" >16, 13:25</text>
<text x="434.5" y="818.0" font-size="15" font-weight="normal" fill="#a9a9ae" stroke="#a9a9ae" stroke-width="0.5" text-anchor="middle" transform="translate(434.5,0) scale(0.95,1) translate(-434.5,0)" >16, 14:40</text>
<text x="516.4" y="818.0" font-size="15" font-weight="normal" fill="#a9a9ae" stroke="#a9a9ae" stroke-width="0.5" text-anchor="middle" transform="translate(516.4,0) scale(0.95,1) translate(-516.4,0)" >16, 15:55</text>
<text x="598.3" y="818.0" font-size="15" font-weight="normal" fill="#a9a9ae" stroke="#a9a9ae" stroke-width="0.5" text-anchor="middle" transform="translate(598.3,0) scale(0.95,1) translate(-598.3,0)" >16, 17:10</text>
<text x="680.1" y="818.0" font-size="15" font-weight="normal" fill="#a9a9ae" stroke="#a9a9ae" stroke-width="0.5" text-anchor="middle" transform="translate(680.1,0) scale(0.95,1) translate(-680.1,0)" >16, 18:25</text>
<text x="762.0" y="818.0" font-size="15" font-weight="normal" fill="#a9a9ae" stroke="#a9a9ae" stroke-width="0.5" text-anchor="middle" transform="translate(762.0,0) scale(0.95,1) translate(-762.0,0)" >16, 19:40</text>
<text x="843.8" y="818.0" font-size="15" font-weight="normal" fill="#a9a9ae" stroke="#a9a9ae" stroke-width="0.5" text-anchor="middle" transform="translate(843.8,0) scale(0.95,1) translate(-843.8,0)" >16, 20:55</text>
<text x="925.7" y="818.0" font-size="15" font-weight="normal" fill="#a9a9ae" stroke="#a9a9ae" stroke-width="0.5" text-anchor="middle" transform="translate(925.7,0) scale(0.95,1) translate(-925.7,0)" >16, 22:10</text>
<text x="1007.6" y="818.0" font-size="15" font-weight="normal" fill="#a9a9ae" stroke="#a9a9ae" stroke-width="0.5" text-anchor="middle" transform="translate(1007.6,0) scale(0.95,1) translate(-1007.6,0)" >16, 23:25</text>
<text x="1089.4" y="818.0" font-size="15" font-weight="normal" fill="#a9a9ae" stroke="#a9a9ae" stroke-width="0.5" text-anchor="middle" transform="translate(1089.4,0) scale(0.95,1) translate(-1089.4,0)" >17, 00:40</text>
<text x="1171.3" y="818.0" font-size="15" font-weight="normal" fill="#a9a9ae" stroke="#a9a9ae" stroke-width="0.5" text-anchor="middle" transform="translate(1171.3,0) scale(0.95,1) translate(-1171.3,0)" >17, 01:55</text>
<text x="1253.1" y="818.0" font-size="15" font-weight="normal" fill="#a9a9ae" stroke="#a9a9ae" stroke-width="0.5" text-anchor="middle" transform="translate(1253.1,0) scale(0.95,1) translate(-1253.1,0)" >17, 03:10</text>
<text x="1335.0" y="818.0" font-size="15" font-weight="normal" fill="#a9a9ae" stroke="#a9a9ae" stroke-width="0.5" text-anchor="middle" transform="translate(1335.0,0) scale(0.95,1) translate(-1335.0,0)" >17, 04:25</text>
<text x="6.5" y="76.8" font-size="15" font-weight="normal" fill="#a9a9ae" stroke="#a9a9ae" stroke-width="0.5" text-anchor="start" transform="translate(6.5,0) scale(0.95,1) translate(-6.5,0)" >46.05M</text>
<text x="30.5" y="818.0" font-size="15" font-weight="normal" fill="#a9a9ae" stroke="#a9a9ae" stroke-width="0.5" text-anchor="middle" transform="translate(30.5,0) scale(0.95,1) translate(-30.5,0)" >0</text>
</svg>
<div class="abs" style="left:598px;top:18.5px;width:13.5px;height:12px;background:#3d175e"></div>
<div class="leg" style="left:617px">Liquidation Leverage</div>
<div class="abs" style="left:772.5px;top:18.5px;width:13px;height:12px;background:#16c784"></div>
<div class="leg" style="left:790px">Supercharts</div>
<div class="abs" style="left:1291px;top:-15px;width:23px;height:21.5px;border:1.9px solid #a3a3a8;border-radius:5px"></div>
<div class="abs" style="left:1328px;top:-12px;color:#ececee;font-size:19.6px;font-weight:bold;line-height:20px;white-space:nowrap">Liquidation Map</div>
</body></html>
